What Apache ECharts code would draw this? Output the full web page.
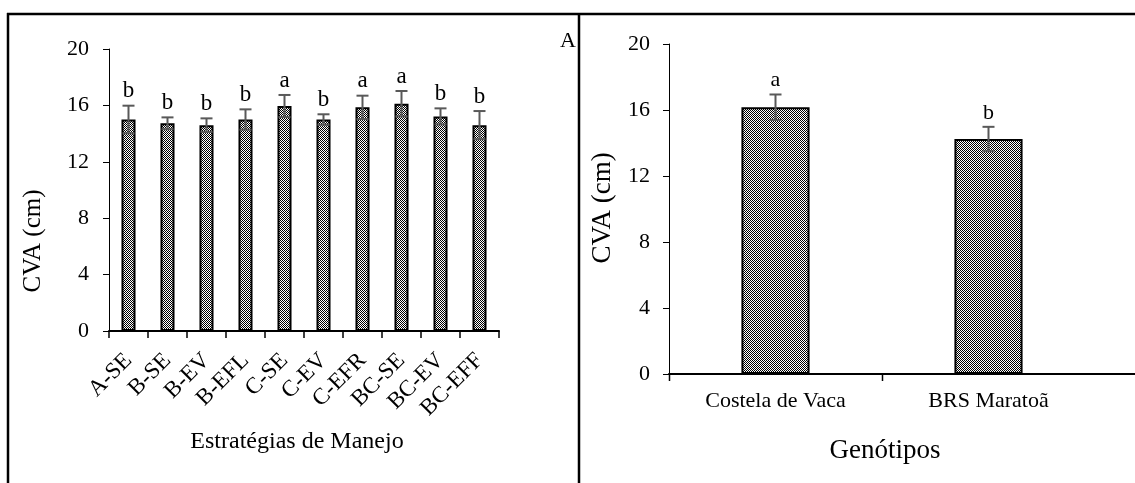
<!DOCTYPE html>
<html>
<head>
<meta charset="utf-8">
<style>
html,body{margin:0;padding:0;background:#fff;}
#chart{width:1135px;height:483px;}
</style>
<script src="https://cdn.jsdelivr.net/npm/echarts@6/dist/echarts.min.js"></script>
</head>
<body>
<div id="chart"></div>
<script>
// ---- data ----
const leftCategories = ['A-SE','B-SE','B-EV','B-EFL','C-SE','C-EV','C-EFR','BC-SE','BC-EV','BC-EFF'];
const leftMeans  = [15.0, 14.73, 14.6, 15.0, 15.96, 15.0, 15.86, 16.12, 15.22, 14.6];
const leftErrors = [0.98, 0.42, 0.48, 0.72, 0.78, 0.37, 0.83, 0.90, 0.57, 1.0];
const leftLetters = ['b','b','b','b','a','b','a','a','b','b'];

const rightCategories = ['Costela de Vaca','BRS Maratoã'];
const rightMeans  = [16.17, 14.24];
const rightErrors = [0.77, 0.74];
const rightLetters = ['a','b'];

const yMin = 0, yMax = 20, yInterval = 4;

// ---- pattern fill ----
const pc = document.createElement('canvas');
pc.width = 2; pc.height = 2;
const pctx = pc.getContext('2d');
pctx.fillStyle = '#ffffff'; pctx.fillRect(0,0,2,2);
pctx.fillStyle = '#000000'; pctx.fillRect(0,0,1,1); pctx.fillRect(1,1,1,1);
const pattern = {image: pc, repeat: 'repeat'};

const FONT = '"Liberation Serif", "Times New Roman", serif';

function errRender(letters, cap, fontSize) {
  return function (params, api) {
    const x = api.value(0), m = api.value(1), e = api.value(2);
    const top = api.coord([x, m + e]);
    const bot = api.coord([x, m - e]);
    const st = {stroke: '#595959', lineWidth: 2};
    return {
      type: 'group',
      children: [
        {type: 'line', shape: {x1: top[0], y1: top[1], x2: bot[0], y2: bot[1]}, style: st},
        {type: 'line', shape: {x1: top[0]-cap, y1: top[1], x2: top[0]+cap, y2: top[1]}, style: st},
        {type: 'line', shape: {x1: bot[0]-cap, y1: bot[1], x2: bot[0]+cap, y2: bot[1]}, style: st},
        {type: 'text', style: {text: letters[params.dataIndex], x: top[0], y: top[1]-3,
          align: 'center', verticalAlign: 'bottom', fill: '#000',
          font: fontSize + 'px ' + FONT}}
      ]
    };
  };
}

// tick marks at the left boundary of each category (right plot)
function tickRender(params, api) {
  const p = api.coord([api.value(0), 0]);
  const band = api.size([1, 0])[0];
  const x = Math.round(p[0] - band / 2) + 0.5;
  return {type: 'line', shape: {x1: x, y1: p[1], x2: x, y2: p[1] + 7},
          style: {stroke: '#000', lineWidth: 1.5}};
}

const gL = {left: 109, top: 49, width: 390, height: 282};
const gR = {left: 669, top: 44, width: 426, height: 330};

const chart = echarts.init(document.getElementById('chart'), null, {renderer: 'canvas'});
chart.setOption({
  backgroundColor: '#fff',
  animation: false,
  grid: [gL, gR],
  xAxis: [
    {type: 'category', gridIndex: 0, data: leftCategories,
     axisLine: {lineStyle: {color: '#000', width: 2}},
     axisTick: {show: true, length: 7, lineStyle: {color: '#000', width: 1.5}},
     axisLabel: {rotate: 45, interval: 0, color: '#000', fontFamily: FONT, fontSize: 23,
                 align: 'right', verticalAlign: 'middle', margin: 26}},
    {type: 'category', gridIndex: 1, data: rightCategories,
     axisLine: {lineStyle: {color: '#000', width: 2}},
     axisTick: {show: false},
     axisLabel: {interval: 0, color: '#000', fontFamily: FONT, fontSize: 22, margin: 16}}
  ],
  yAxis: [
    {type: 'value', gridIndex: 0, min: yMin, max: yMax, interval: yInterval,
     splitLine: {show: false},
     axisLine: {show: true, lineStyle: {color: '#000', width: 1}},
     axisTick: {show: true, length: 6, lineStyle: {color: '#000', width: 1}},
     axisLabel: {color: '#000', fontFamily: FONT, fontSize: 22, margin: 20}},
    {type: 'value', gridIndex: 1, min: yMin, max: yMax, interval: yInterval,
     splitLine: {show: false},
     axisLine: {show: true, lineStyle: {color: '#000', width: 1}},
     axisTick: {show: true, length: 6, lineStyle: {color: '#000', width: 1}},
     axisLabel: {color: '#000', fontFamily: FONT, fontSize: 22, margin: 19}}
  ],
  series: [
    {type: 'bar', xAxisIndex: 0, yAxisIndex: 0, data: leftMeans, barWidth: '36%',
     itemStyle: {color: pattern, borderColor: '#000', borderWidth: 2}},
    {type: 'custom', xAxisIndex: 0, yAxisIndex: 0, z: 5,
     data: leftMeans.map((m, i) => [i, m, leftErrors[i]]),
     renderItem: errRender(leftLetters, 6, 23)},
    {type: 'bar', xAxisIndex: 1, yAxisIndex: 1, data: rightMeans, barWidth: '32%',
     itemStyle: {color: pattern, borderColor: '#000', borderWidth: 2}},
    {type: 'custom', xAxisIndex: 1, yAxisIndex: 1, z: 5,
     data: rightMeans.map((m, i) => [i, m, rightErrors[i]]),
     renderItem: errRender(rightLetters, 6, 22)},
    {type: 'custom', xAxisIndex: 1, yAxisIndex: 1, z: 6, silent: true, clip: false,
     data: rightCategories.map((c, i) => [i]),
     renderItem: tickRender}
  ],
  graphic: [
    // panel frame
    {type: 'line', shape: {x1: 7, y1: 14, x2: 1135, y2: 14}, style: {stroke: '#000', lineWidth: 2.5}},
    {type: 'line', shape: {x1: 8, y1: 13, x2: 8, y2: 483}, style: {stroke: '#000', lineWidth: 2.5}},
    {type: 'line', shape: {x1: 579, y1: 13, x2: 579, y2: 483}, style: {stroke: '#000', lineWidth: 2.5}},
    // x-axis continuation of right plot
    {type: 'line', shape: {x1: gR.left + gR.width, y1: gR.top + gR.height, x2: 1135, y2: gR.top + gR.height},
     style: {stroke: '#000', lineWidth: 2}},
    // titles
    {type: 'text', x: 33, y: 241, rotation: Math.PI/2,
     style: {text: 'CVA (cm)', align: 'center', verticalAlign: 'middle', fill: '#000', font: '25px ' + FONT}},
    {type: 'text', x: 297, y: 442,
     style: {text: 'Estratégias de Manejo', align: 'center', verticalAlign: 'middle', fill: '#000', font: '24px ' + FONT}},
    {type: 'text', x: 603, y: 208, rotation: Math.PI/2,
     style: {text: 'CVA (cm)', align: 'center', verticalAlign: 'middle', fill: '#000', font: '27px ' + FONT}},
    {type: 'text', x: 885, y: 451,
     style: {text: 'Genótipos', align: 'center', verticalAlign: 'middle', fill: '#000', font: '27px ' + FONT}},
    {type: 'text', x: 576, y: 41,
     style: {text: 'A', align: 'right', verticalAlign: 'middle', fill: '#000', font: '22px ' + FONT}}
  ]
});
</script>
</body>
</html>
